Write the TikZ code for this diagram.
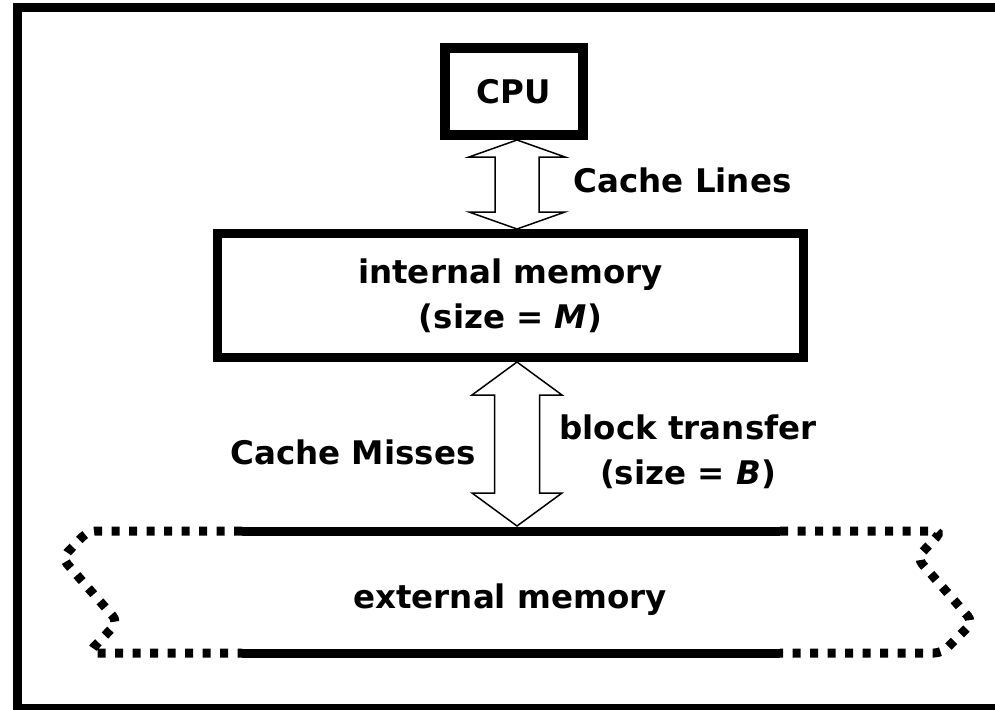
\documentclass[tikz,border=0pt]{standalone}
\usepackage{fontspec}
\setmainfont{DejaVu Sans}
\usetikzlibrary{calc}

% double headed outline arrow: top, bottom, half shaft, half head, head length
\newcommand{\vdblarrow}[5]{%
  \draw[bigarrow] let \p1=(#1), \p2=(#2) in
    (\p1) -- (\x1-#4,\y1-#5) -- (\x1-#3,\y1-#5) -- (\x1-#3,\y2+#5)
    -- (\x1-#4,\y2+#5) -- (\x1,\y2) -- (\x1+#4,\y2+#5) -- (\x1+#3,\y2+#5)
    -- (\x1+#3,\y1-#5) -- (\x1+#4,\y1-#5) -- cycle;}

\begin{document}
\begin{tikzpicture}[x=1pt, y=-1pt]
    \tikzstyle{thickbox}=[draw, line width=10pt, rectangle, inner sep=0pt]
    \tikzstyle{txt}=[font=\fontsize{32.5}{45}\selectfont\bfseries, align=center]
    \tikzstyle{bigarrow}=[draw, line width=1.5pt, fill=white, line join=miter]
    \tikzstyle{edgeline}=[line width=9pt]
    \tikzstyle{dotline}=[line width=9pt, dash pattern=on 8pt off 9.5pt, rounded corners=8pt]

    \clip (0,0) rectangle (995,709);

    % Frame
    \draw[edgeline] (17.5,7.5) rectangle (1015,708.5);

    % CPU and internal memory
    \node[thickbox, txt, minimum width=138pt, minimum height=87pt] (cpu) at (514,91.5) {CPU};
    \node[thickbox, txt, line width=9pt, minimum width=586pt, minimum height=124pt] (mem) at (510.5,295.5)
        {internal memory\\(size = \textit{M})};
    \coordinate (axis) at (517,0);

    % External memory
    \node[txt] (ext) at (510,600) {external memory};
    \coordinate (extin) at (517,526);
    \draw[edgeline] (242,531) -- (780,531);
    \draw[edgeline] (242,653) -- (780,653);
    \draw[dotline] (242,531) -- (88,531) -- (62,558) -- (118,622) -- (88,653) -- (242,653);
    \draw[dotline] (780,531) -- (942,531) -- (917,558) -- (973,622) -- (942,653) -- (780,653);

    % Transfers
    \vdblarrow{cpu.south -| axis}{mem.north -| axis}{22pt}{48pt}{17pt}
    \vdblarrow{mem.south -| axis}{extin}{22.5pt}{45pt}{33pt}

    \node[txt, anchor=west] (lines) at (570,180) {Cache Lines};
    \node[txt, anchor=east] (misses) at (479,452) {Cache Misses};
    \node[txt] (block) at (688,452) {block transfer\\(size = \textit{B})};
\end{tikzpicture}
\end{document}
